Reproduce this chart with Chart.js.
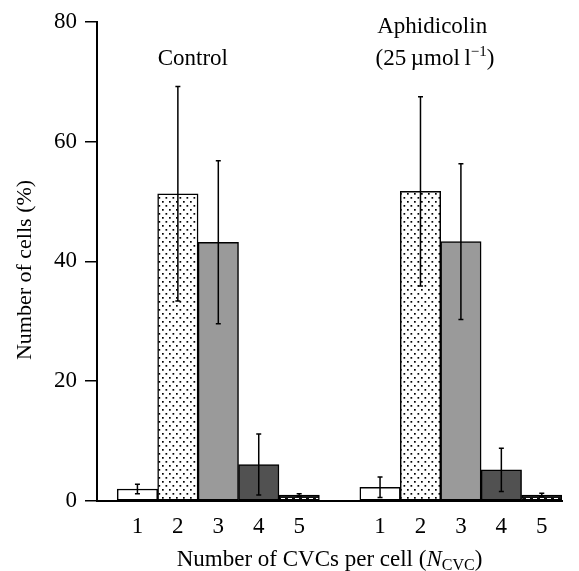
<!DOCTYPE html>
<html>
<head>
<meta charset="utf-8">
<script src="https://cdn.jsdelivr.net/npm/chart.js@4/dist/chart.umd.min.js"></script>
<style>
html,body{margin:0;padding:0;background:#fff;}
</style>
</head>
<body>
<canvas id="c" width="579" height="571"></canvas>
<script>
// ---- data ----
const cvcNumbers = ['1', '2', '3', '4', '5'];
const groupNames = ['Control', 'Aphidicolin'];
const controlMeans = [2.0, 51.3, 43.2, 6.1, 1.0];
const controlErrors = [0.8, 17.9, 13.6, 5.1, 0.2];
const aphidicolinMeans = [2.3, 51.7, 43.3, 5.2, 1.0];
const aphidicolinErrors = [1.7, 15.8, 13.0, 3.6, 0.3];
const yTicks = [0, 20, 40, 60, 80];
const yAxisTitle = 'Number of cells (%)';
const xAxisTitle = 'Number of CVCs per cell (';
const concentrationLabel = '(25\u2009\u00b5mol\u2009l';

// ---- build ----
const FONT = "'Liberation Serif','Times New Roman',serif";
Chart.defaults.font.family = FONT;
Chart.defaults.color = '#000';

function dotPattern() {
  const c = document.createElement('canvas');
  c.width = 7; c.height = 8;
  const g = c.getContext('2d');
  g.fillStyle = '#fff'; g.fillRect(0, 0, 7, 8);
  g.fillStyle = '#000';
  g.fillRect(1, 1, 1.7, 1.7);
  g.fillRect(4.5, 5, 1.7, 1.7);
  return g.createPattern(c, 'repeat');
}
function dashPattern() {
  const c = document.createElement('canvas');
  c.width = 7; c.height = 6;
  const g = c.getContext('2d');
  g.fillStyle = '#111'; g.fillRect(0, 0, 7, 6);
  g.fillStyle = '#fff'; g.fillRect(1, 0, 4, 2);
  return g.createPattern(c, 'repeat');
}
const fillsPerCvc = ['#ffffff', dotPattern(), '#9a9a9a', '#515151', dashPattern()];

const positions = [];
const means = [];
const errors = [];
const fills = [];
[controlMeans, aphidicolinMeans].forEach((arr, gi) => {
  arr.forEach((m, ni) => {
    positions.push(gi * 6 + ni + 1);
    means.push(m);
    errors.push(gi === 0 ? controlErrors[ni] : aphidicolinErrors[ni]);
    fills.push(fillsPerCvc[ni]);
  });
});
const points = means.map((m, i) => ({ x: positions[i], y: m }));

const decorPlugin = {
  id: 'decor',
  afterDatasetsDraw(chart) {
    const ctx = chart.ctx;
    const ys = chart.scales.y;
    const meta = chart.getDatasetMeta(0);
    ctx.save();
    ctx.strokeStyle = '#000';
    ctx.lineWidth = 1.5;
    meta.data.forEach((bar, i) => {
      const x = bar.x;
      const top = ys.getPixelForValue(means[i] + errors[i]);
      const bot = ys.getPixelForValue(Math.max(0, means[i] - errors[i]));
      ctx.beginPath();
      ctx.moveTo(x, top); ctx.lineTo(x, bot);
      ctx.moveTo(x - 2.5, top); ctx.lineTo(x + 2.5, top);
      ctx.moveTo(x - 2.5, bot); ctx.lineTo(x + 2.5, bot);
      ctx.stroke();
    });
    ctx.restore();
  },
  afterDraw(chart) {
    const ctx = chart.ctx;
    const xs = chart.scales.x, ys = chart.scales.y;
    const area = chart.chartArea;
    ctx.save();
    ctx.fillStyle = '#000';
    ctx.textBaseline = 'alphabetic';
    // group labels
    ctx.font = '23px ' + FONT;
    ctx.textAlign = 'center';
    ctx.fillText(groupNames[0], xs.getPixelForValue(2.37), ys.getPixelForValue(72.8));
    ctx.fillText(groupNames[1], xs.getPixelForValue(8.29), ys.getPixelForValue(78.2));
    // concentration line with superscript
    ctx.textAlign = 'left';
    const big = '23px ' + FONT, small = '15px ' + FONT;
    ctx.font = big; const w1 = ctx.measureText(concentrationLabel).width;
    ctx.font = small; const w2 = ctx.measureText('\u22121').width;
    ctx.font = big; const w3 = ctx.measureText(')').width;
    let cx = xs.getPixelForValue(8.36) - (w1 + w2 + w3) / 2;
    const by = ys.getPixelForValue(72.8);
    ctx.font = big; ctx.fillText(concentrationLabel, cx, by); cx += w1;
    ctx.font = small; ctx.fillText('\u22121', cx, by - 9); cx += w2;
    ctx.font = big; ctx.fillText(')', cx, by);
    // x axis title
    const parts = [
      { t: xAxisTitle, f: '23px ' + FONT, dy: 0 },
      { t: 'N', f: 'italic 23px ' + FONT, dy: 0 },
      { t: 'CVC', f: '16px ' + FONT, dy: 4 },
      { t: ')', f: '23px ' + FONT, dy: 0 }
    ];
    let tw = 0;
    parts.forEach(p => { ctx.font = p.f; p.w = ctx.measureText(p.t).width; tw += p.w; });
    let tx = (area.left + area.right) / 2 - tw / 2;
    parts.forEach(p => { ctx.font = p.f; ctx.fillText(p.t, tx, 566 + p.dy); tx += p.w; });
    // y axis title
    ctx.translate(25, 270);
    ctx.rotate(-Math.PI / 2);
    ctx.textAlign = 'center';
    ctx.textBaseline = 'middle';
    ctx.font = '22px ' + FONT;
    ctx.fillText(yAxisTitle, 0, 0);
    ctx.restore();
  }
};

new Chart(document.getElementById('c'), {
  type: 'bar',
  data: {
    datasets: [{
      data: points,
      backgroundColor: fills,
      borderColor: '#000',
      borderWidth: 1.5,
      borderSkipped: false,
      categoryPercentage: 1,
      barPercentage: 1
    }]
  },
  options: {
    responsive: false,
    devicePixelRatio: 1,
    animation: false,
    layout: { padding: { top: 21, right: 17, left: 0, bottom: 0 } },
    plugins: { legend: { display: false }, tooltip: { enabled: false } },
    scales: {
      x: {
        type: 'linear',
        offset: false,
        min: 0,
        max: 11.5,
        grid: { display: false, drawTicks: false, offset: false },
        border: { display: true, color: '#000', width: 2 },
        ticks: {
          padding: 12,
          autoSkip: false,
          maxRotation: 0,
          font: { size: 23 },
          callback: (v) => {
            const idx = positions.indexOf(v);
            return idx >= 0 ? cvcNumbers[idx % cvcNumbers.length] : '';
          }
        },
        afterBuildTicks: (s) => { s.ticks = positions.map(v => ({ value: v })); },
        afterFit: (s) => { s.height = 70; }
      },
      y: {
        min: 0,
        max: 80,
        grid: { display: true, drawOnChartArea: false, drawTicks: true, tickLength: 12, color: '#000', lineWidth: 1.5 },
        border: { display: true, color: '#000', width: 2 },
        ticks: { padding: 8, font: { size: 23 } },
        afterBuildTicks: (s) => { s.ticks = yTicks.map(v => ({ value: v })); },
        afterFit: (s) => { s.width = 97; }
      }
    }
  },
  plugins: [decorPlugin]
});
</script>
</body>
</html>
